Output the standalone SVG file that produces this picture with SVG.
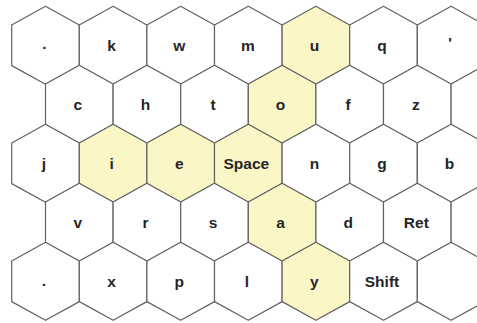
<svg xmlns="http://www.w3.org/2000/svg" xmlns:xlink="http://www.w3.org/1999/xlink" width="477" height="323" viewBox="0 0 477 323">
<defs>
<style>
.hex{fill:#ffffff;stroke:#626262;stroke-width:1.2;stroke-linejoin:round}
.hl{fill:#faf6c6}
.lbl{font-family:"Liberation Sans",Arial,sans-serif;font-weight:bold;font-size:15.5px;fill:#262626;text-anchor:middle}
</style>
<polygon id="hx" points="0,-39 33.8,-20.3 33.8,20.3 0,39 -33.8,20.3 -33.8,-20.3"/>
</defs>
<rect width="477" height="323" fill="#ffffff"/>
<!-- row 1 -->
<g id="n-dot1" transform="translate(45.5,45.3)"><use href="#hx" class="hex"/><text class="lbl" x="-1" y="3.5">.</text></g>
<g id="n-k" transform="translate(113.1,45.3)"><use href="#hx" class="hex"/><text class="lbl" x="-1.5" y="5.5">k</text></g>
<g id="n-w" transform="translate(180.7,45.3)"><use href="#hx" class="hex"/><text class="lbl" x="-1.5" y="5.5">w</text></g>
<g id="n-m" transform="translate(248.3,45.3)"><use href="#hx" class="hex"/><text class="lbl" x="-0.5" y="5.5">m</text></g>
<g id="n-u" transform="translate(315.9,45.3)"><use href="#hx" class="hex hl"/><text class="lbl" x="-1.5" y="5.5">u</text></g>
<g id="n-q" transform="translate(383.5,45.3)"><use href="#hx" class="hex"/><text class="lbl" x="-1.5" y="5.5">q</text></g>
<g id="n-apos" transform="translate(451.1,45.3)"><use href="#hx" class="hex"/><text class="lbl" x="-1" y="3">'</text></g>
<!-- row 2 -->
<g id="n-c" transform="translate(79.3,104.3)"><use href="#hx" class="hex"/><text class="lbl" x="-1.5" y="5.5">c</text></g>
<g id="n-h" transform="translate(146.9,104.3)"><use href="#hx" class="hex"/><text class="lbl" x="-1.5" y="5.5">h</text></g>
<g id="n-t" transform="translate(214.5,104.3)"><use href="#hx" class="hex"/><text class="lbl" x="-1.5" y="5.5">t</text></g>
<g id="n-o" transform="translate(282.1,104.3)"><use href="#hx" class="hex hl"/><text class="lbl" x="-1.5" y="5.5">o</text></g>
<g id="n-f" transform="translate(349.7,104.3)"><use href="#hx" class="hex"/><text class="lbl" x="-1.5" y="5.5">f</text></g>
<g id="n-z" transform="translate(417.3,104.3)"><use href="#hx" class="hex"/><text class="lbl" x="-1.5" y="5.5">z</text></g>
<g id="n-r2blank" transform="translate(484.9,104.3)"><use href="#hx" class="hex"/></g>
<!-- row 3 -->
<g id="n-j" transform="translate(45.5,163.3)"><use href="#hx" class="hex"/><text class="lbl" x="-1.5" y="5.5">j</text></g>
<g id="n-i" transform="translate(113.1,163.3)"><use href="#hx" class="hex hl"/><text class="lbl" x="-1.5" y="5.5">i</text></g>
<g id="n-e" transform="translate(180.7,163.3)"><use href="#hx" class="hex hl"/><text class="lbl" x="-1.5" y="5.5">e</text></g>
<g id="n-space" transform="translate(248.3,163.3)"><use href="#hx" class="hex hl"/><text class="lbl" x="-2" y="5.5">Space</text></g>
<g id="n-n" transform="translate(315.9,163.3)"><use href="#hx" class="hex"/><text class="lbl" x="-1.5" y="5.5">n</text></g>
<g id="n-g" transform="translate(383.5,163.3)"><use href="#hx" class="hex"/><text class="lbl" x="-1.5" y="5.5">g</text></g>
<g id="n-b" transform="translate(451.1,163.3)"><use href="#hx" class="hex"/><text class="lbl" x="-1.5" y="5.5">b</text></g>
<!-- row 4 -->
<g id="n-v" transform="translate(79.3,222.3)"><use href="#hx" class="hex"/><text class="lbl" x="-1.5" y="5.5">v</text></g>
<g id="n-r" transform="translate(146.9,222.3)"><use href="#hx" class="hex"/><text class="lbl" x="-1.5" y="5.5">r</text></g>
<g id="n-s" transform="translate(214.5,222.3)"><use href="#hx" class="hex"/><text class="lbl" x="-1.5" y="5.5">s</text></g>
<g id="n-a" transform="translate(282.1,222.3)"><use href="#hx" class="hex hl"/><text class="lbl" x="-1.5" y="5.5">a</text></g>
<g id="n-d" transform="translate(349.7,222.3)"><use href="#hx" class="hex"/><text class="lbl" x="-1.5" y="5.5">d</text></g>
<g id="n-ret" transform="translate(417.3,222.3)"><use href="#hx" class="hex"/><text class="lbl" x="-1" y="5.5">Ret</text></g>
<g id="n-r4blank" transform="translate(484.9,222.3)"><use href="#hx" class="hex"/></g>
<!-- row 5 -->
<g id="n-dot2" transform="translate(45.5,281.3)"><use href="#hx" class="hex"/><text class="lbl" x="-1.5" y="5">.</text></g>
<g id="n-x" transform="translate(113.1,281.3)"><use href="#hx" class="hex"/><text class="lbl" x="-1.5" y="5.5">x</text></g>
<g id="n-p" transform="translate(180.7,281.3)"><use href="#hx" class="hex"/><text class="lbl" x="-1.5" y="5.5">p</text></g>
<g id="n-l" transform="translate(248.3,281.3)"><use href="#hx" class="hex"/><text class="lbl" x="-1.5" y="5.5">l</text></g>
<g id="n-y" transform="translate(315.9,281.3)"><use href="#hx" class="hex hl"/><text class="lbl" x="-1.5" y="5.5">y</text></g>
<g id="n-shift" transform="translate(383.5,281.3)"><use href="#hx" class="hex"/><text class="lbl" x="-1.5" y="5.5">Shift</text></g>
<g id="n-r5blank" transform="translate(451.1,281.3)"><use href="#hx" class="hex"/></g>
</svg>
